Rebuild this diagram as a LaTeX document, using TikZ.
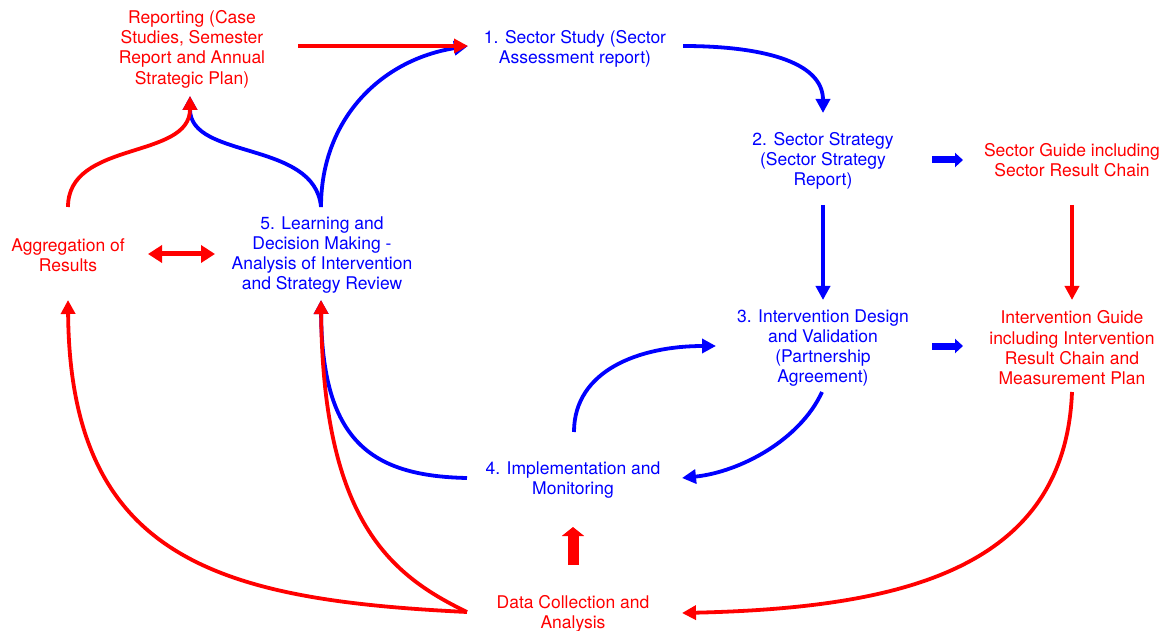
\documentclass[tikz,border=0pt]{standalone}
\usepackage{fontspec}
\setmainfont{TeX Gyre Heros}
\usetikzlibrary{arrows.meta,calc}
\begin{document}
\begin{tikzpicture}[x=1pt,y=-1pt,
  lbl/.style={align=center,inner sep=0pt,font=\fontsize{17.5}{20.3}\selectfont},
  rlbl/.style={lbl,text=red},
  blbl/.style={lbl,text=blue},
  conn/.style={line width=3.8pt,-{Triangle[length=14pt,width=14pt]}},
  rconn/.style={conn,draw=red},
  bconn/.style={conn,draw=blue},
  bblock/.style={draw=blue,line width=7pt,-{Triangle[length=8pt,width=14pt]}},
  rblock/.style={draw=red,line width=11pt,-{Triangle[length=9pt,width=22pt]}},
  rdouble/.style={draw=red,line width=5pt,{Triangle[length=14pt,width=17pt]}-{Triangle[length=14pt,width=17pt]}}
]
\useasboundingbox (0,0) rectangle (1168,631);
\node[rlbl] (rep) at (192,49) {Reporting (Case\\Studies, Semester\\Report and Annual\\Strategic Plan)};
\node[blbl] (study) at (575,49) {1. Sector Study (Sector\\Assessment report)};
\node[blbl] (strat) at (823,161) {2. Sector Strategy\\(Sector Strategy\\Report)};
\node[rlbl] (guide) at (1072,160) {Sector Guide including\\Sector Result Chain};
\node[blbl] (int) at (823,348) {3. Intervention Design\\and Validation\\(Partnership\\Agreement)};
\node[rlbl] (intg) at (1072,348) {Intervention Guide\\including Intervention\\Result Chain and\\Measurement Plan};
\node[blbl] (impl) at (573,480) {4. Implementation and\\Monitoring};
\node[rlbl] (data) at (573,614) {Data Collection and\\Analysis};
\node[rlbl] (agg) at (68,255) {Aggregation of\\Results};
\node[blbl] (learn) at (322,255) {5. Learning and\\Decision Making -\\Analysis of Intervention\\and Strategy Review};

% blue connectors
\draw[bconn] ($(learn)+(-1,-48)$) .. controls +(0,-87) and +(-88,14) .. ($(study)+(-107,-3)$);
\draw[bconn] ($(learn)+(-1,-48)$) .. controls +(-6,-67) and +(0,64) .. ($(rep)+(-2,47)$);
\draw[bconn] ($(study)+(108,-3)$) .. controls +(77,0) and +(0,-52) .. ($(strat)+(0,-48)$);
\draw[bconn] ($(strat)+(0,44)$) -- ($(int)+(0,-48)$);
\draw[bconn] ($(int)+(-1,44)$) .. controls +(-22,48) and +(58,-6) .. ($(impl)+(109,-2)$);
\draw[bconn] ($(impl)+(1,-48)$) .. controls +(0,-62) and +(-76,0) .. ($(int)+(-107,-2)$);
\draw[bconn] ($(impl)+(-106,-2)$) .. controls +(-97,-2) and +(1,140) .. ($(learn)+(-1,45)$);
\draw[bblock] ($(strat)+(109,-1)$) -- ($(guide)+(-109,0)$);
\draw[bblock] ($(int)+(109,-2)$) -- ($(intg)+(-109,-2)$);

% red connectors
\draw[rconn] ($(rep)+(106,-3)$) -- ($(study)+(-107,-3)$);
\draw[rconn] ($(agg)+(0,-48)$) .. controls +(0,-67) and +(0,64) .. ($(rep)+(-2,47)$);
\draw[rdouble] ($(agg)+(80,-1)$) -- ($(learn)+(-107,-1)$);
\draw[rconn] ($(guide)+(0,45)$) -- ($(intg)+(0,-48)$);
\draw[rconn] ($(data)+(-106,-2)$) .. controls +(-77,-37) and +(2,220) .. ($(learn)+(-1,45)$);
\draw[rconn] ($(data)+(-106,-2)$) .. controls +(-247,-12) and +(2,260) .. ($(agg)+(0,45)$);
\draw[rconn] ($(intg)+(0,44)$) .. controls +(-7,178) and +(218,-5) .. ($(data)+(109,-1)$);
\draw[rblock] ($(data)+(0,-49)$) -- ($(impl)+(0,47)$);
\end{tikzpicture}
\end{document}
